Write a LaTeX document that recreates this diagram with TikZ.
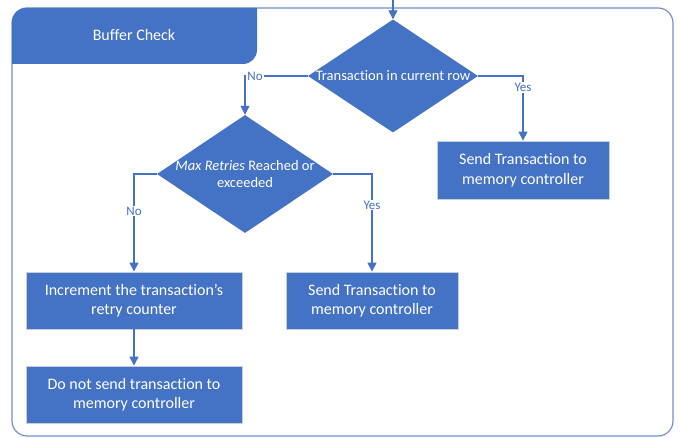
\documentclass[tikz,border=0pt]{standalone}
\usepackage{fontspec}
\setmainfont{Carlito}[Ligatures={NoCommon,NoDiscretionary,NoRare}]
\usetikzlibrary{shapes.geometric,arrows.meta}
\definecolor{mblue}{HTML}{4472C4}
\definecolor{fblue}{HTML}{6F8FCF}
\definecolor{edgegray}{HTML}{C8CFDC}
\begin{document}
\begin{tikzpicture}[x=1pt,y=1pt,
  dia/.style={diamond,fill=mblue,inner sep=0pt,aspect=1.5},
  box/.style={rectangle,fill=mblue,draw=edgegray,line width=0.8pt,text=white,align=center,font=\fontsize{16}{19.5}\selectfont,inner sep=0pt},
  txt/.style={text=white,align=center,font=\fontsize{16}{19.5}\selectfont,inner sep=0pt},
  dtxt/.style={text=white,align=center,font=\fontsize{14.5}{17}\selectfont,inner sep=0pt},
  arr/.style={draw=mblue,line width=1.2pt,-{Triangle[length=9pt,width=9pt]}},
  lab/.style={fill=white,text=mblue,font=\fontsize{13}{15}\selectfont,inner sep=1pt}]
\useasboundingbox (0,0) rectangle (681,438);
% outer frame
\draw[fblue,line width=1.2pt,rounded corners=15pt] (12,2) rectangle (673,430);
% header tab
\fill[mblue] (12,374) -- (12,416) arc[start angle=180,end angle=90,radius=14] -- (257,430) -- (257,388) arc[start angle=0,end angle=-90,radius=14] -- cycle;
\node[txt] (hdr) at (134,403) {Buffer Check};
% nodes
\coordinate (in) at (393,438);
\node[dia,minimum width=170pt,minimum height=113pt] (d1) at (393,362) {};
\node[dtxt] (d1t) at (d1) {Transaction in current row};
\node[dia,minimum width=176pt,minimum height=118pt] (d2) at (245,264) {};
\node[dtxt] (d2t) at (d2) {\textit{Max Retries} Reached or\\exceeded};
\node[box,minimum width=172pt,minimum height=58pt] (r1) at (523,268) {Send Transaction to\\memory controller};
\node[box,minimum width=216pt,minimum height=57pt] (b1) at (134,137.5) {Increment the transaction’s\\retry counter};
\node[box,minimum width=216pt,minimum height=57pt] (b2) at (134,43.5) {Do not send transaction to\\memory controller};
\node[box,minimum width=172pt,minimum height=57pt] (m1) at (372,137.5) {Send Transaction to\\memory controller};
% connectors
\draw[arr] (in) -- (d1.north);
\draw[arr] (d1.west) -| node[lab,pos=0.42] {No} (d2.north);
\draw[arr] (d1.east) -| node[lab,pos=0.59] {Yes} (r1.north);
\draw[arr] (d2.west) -| node[lab,pos=0.69] {No} (b1.north);
\draw[arr] (d2.east) -| node[lab,pos=0.66] {Yes} (m1.north);
\draw[arr] (b1.south) -- (b2.north);
\end{tikzpicture}
\end{document}
